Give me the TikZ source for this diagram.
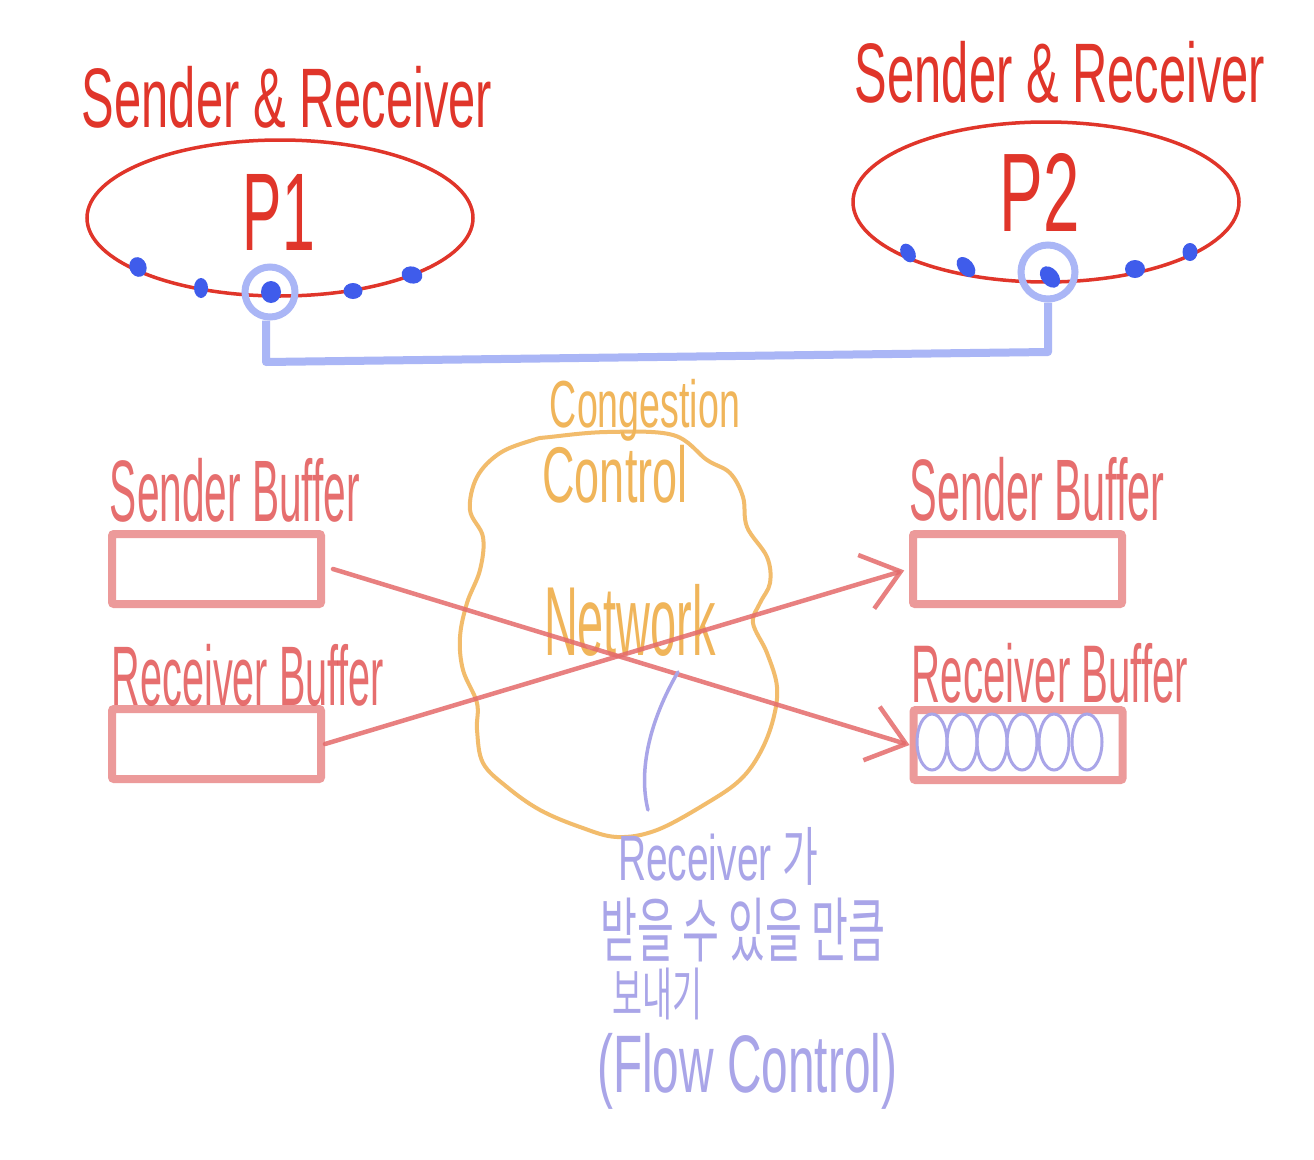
\documentclass[tikz,border=0pt]{standalone}
\usepackage{fontspec}
\setmainfont{Liberation Sans}
\newfontfamily\krfont{Noto Sans CJK KR}
\usetikzlibrary{arrows.meta,shapes.geometric}
\definecolor{pred}{HTML}{E0352A}
\definecolor{bufred}{HTML}{EC9A9A}
\definecolor{lblred}{HTML}{E04A4A}
\definecolor{arrred}{HTML}{E46A6A}
\definecolor{dotblue}{HTML}{3F5CEB}
\definecolor{linkblue}{HTML}{AAB6F6}
\definecolor{cloudor}{HTML}{F2BC6C}
\definecolor{orlblc}{HTML}{F0B55A}
\definecolor{purp}{HTML}{A9A5E8}
% fit text into a box of given width and total height
\newcommand{\fitbox}[3]{\resizebox*{#1}{#2}{#3}}
\tikzset{
  title/.style={text=pred, inner sep=0pt},
  bigname/.style={text=pred, inner sep=0pt},
  dotp/.style={fill=dotblue, draw=none, ellipse, minimum width=17pt, minimum height=20pt, inner sep=0pt},
  halo/.style={draw=linkblue, line width=7pt, circle, inner sep=0pt},
  link/.style={draw=linkblue, line width=8pt, line join=round},
  buf/.style={draw=bufred, line width=8pt, rounded corners=2pt, minimum width=209pt, minimum height=70pt, inner sep=0pt},
  buflbl/.style={text=lblred, opacity=0.8, inner sep=0pt},
  flow/.style={draw=arrred, opacity=0.85, line width=4.5pt, line cap=round,
    -{Straight Barb[length=36pt, width=56pt, line width=4.5pt]}},
  cloudline/.style={draw=cloudor, line width=4pt},
  orlbl/.style={text=orlblc, inner sep=0pt},
  purlbl/.style={text=purp, inner sep=0pt, anchor=west},
  loop/.style={draw=purp, line width=3pt}
}
\begin{document}
\begin{tikzpicture}[x=1pt,y=-1pt]
\useasboundingbox (0,0) rectangle (1314,1159);
\fill[white] (0,0) rectangle (1314,1159);

% titles
\node[title] (t1) at (287,97) {\fitbox{410pt}{62pt}{Sender \& Receiver}};
\node[title] (t2) at (1060,72) {\fitbox{410pt}{62pt}{Sender \& Receiver}};

% processes
\draw[pred, line width=3.5pt] (280,218) ellipse [x radius=193, y radius=78];
\draw[pred, line width=3.5pt] (1046,202) ellipse [x radius=193, y radius=80];
\node[bigname] (p1) at (279,212) {\fitbox{72pt}{76pt}{P1}};
\node[bigname] (p2) at (1040,192) {\fitbox{80pt}{78pt}{P2}};

% ports
\node[dotp, rotate=20] (a1) at (138,267) {};
\node[dotp, minimum width=14pt] (a2) at (201,288) {};
\node[dotp, minimum width=20pt, minimum height=22pt] (a3) at (271,292) {};
\node[dotp, minimum width=19pt, minimum height=16pt] (a4) at (353,291) {};
\node[dotp, minimum width=21pt, minimum height=17pt, rotate=-15] (a5) at (412,275) {};
\node[dotp, minimum width=14pt, rotate=30] (b1) at (908,253) {};
\node[dotp, minimum width=15pt, minimum height=23pt, rotate=40] (b2) at (966,267) {};
\node[dotp, minimum width=17pt, minimum height=24pt, rotate=40] (b3) at (1050,277) {};
\node[dotp, minimum width=20pt, minimum height=18pt] (b4) at (1135,269) {};
\node[dotp, minimum width=15pt, minimum height=18pt] (b5) at (1190,252) {};

% socket highlights and link
\node[halo, minimum size=50pt] (h1) at (270,292) {};
\node[halo, minimum size=54pt] (h2) at (1048,272) {};
\coordinate (k1) at (266,362);
\coordinate (k2) at (1048,352);
\draw[link] ([xshift=-4pt]h1.south) -- ([xshift=-4pt]h1.south |- k1) -- (h2.south |- k2) -- (h2.south);

% network cloud
\draw[cloudline] plot[smooth cycle, tension=0.6] coordinates {
 (550,437) (607,432) (673,435) (707,460) (730,473) (743,497) (747,527) (767,557)
 (770,583) (760,603) (753,623) (767,653) (777,687) (773,720) (760,753) (740,780)
 (707,803) (657,830) (617,837) (580,827) (540,810) (507,787) (483,763) (477,730)
 (477,703) (463,670) (460,637) (467,603) (480,570) (483,537) (470,510) (477,477)
 (500,453) (533,440)};
\node[orlbl] (cc1) at (645,410) {\fitbox{190pt}{62pt}{Congestion}};
\node[orlbl] (cc2) at (615,474) {\fitbox{145pt}{58pt}{Control}};
\node[orlbl] (net) at (630,620) {\fitbox{172pt}{72pt}{Network}};

% buffers
\node[buf] (lsb) at (216.5,569) {};
\node[buf] (lrb) at (216.5,744) {};
\node[buf] (rsb) at (1017.5,569) {};
\node[buf] (rrb) at (1018,745) {};
\node[buflbl] (lsbl) at (235,490) {\fitbox{250pt}{64pt}{Sender Buffer}};
\node[buflbl] (lrbl) at (248,675) {\fitbox{272pt}{62pt}{Receiver Buffer}};
\node[buflbl] (rsbl) at (1037,489) {\fitbox{255pt}{64pt}{Sender Buffer}};
\node[buflbl] (rrbl) at (1050,673) {\fitbox{276pt}{60pt}{Receiver Buffer}};

% queued data in right receiver buffer
\foreach \cx in {932,962,992,1022,1054,1087}
  \draw[loop] (\cx,742) ellipse [x radius=15, y radius=28];

% flows
\draw[flow] ([xshift=8pt]lsb.east) -- (rrb.west);
\draw[flow, shorten >=5pt] (lrb.east) -- (rsb.west);

% flow control annotation
\coordinate (f0) at (678,672);
\draw[purp, line width=3.5pt, line cap=round] (f0) .. controls (650,720) and (638,770) .. (648,810);
\node[purlbl] (fc1) at (618,856) {\fitbox{200pt}{58pt}{Receiver {\krfont 가}}};
\node[purlbl] (fc2) at (600,930) {\fitbox{285pt}{64pt}{\krfont 받을 수 있을 만큼}};
\node[purlbl] (fc3) at (612,994) {\fitbox{90pt}{52pt}{\krfont 보내기}};
\node[purlbl] (fc4) at (597,1071) {\fitbox{300pt}{76pt}{(Flow Control)}};
\end{tikzpicture}
\end{document}
